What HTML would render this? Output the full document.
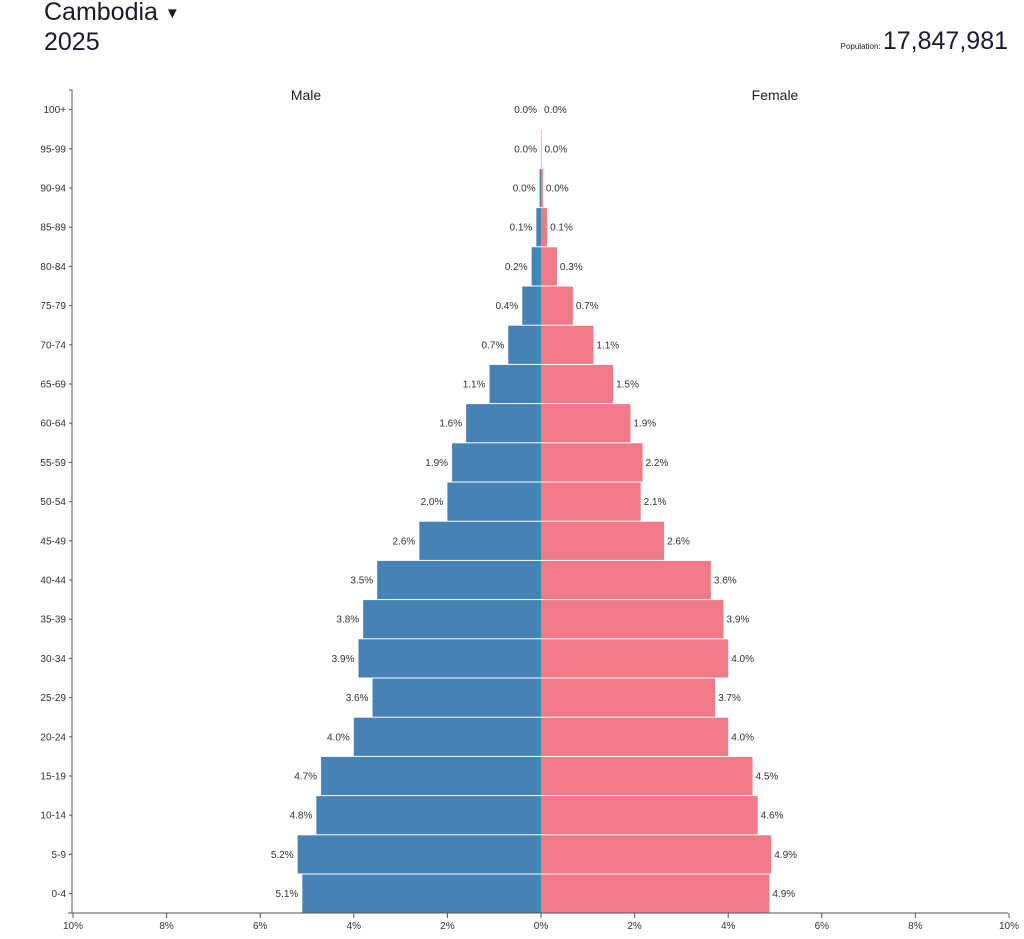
<!DOCTYPE html>
<html><head><meta charset="utf-8"><style>
body{margin:0;background:#fff;font-family:"Liberation Sans",sans-serif;color:#1a1a2e;}
#wrap{position:relative;width:1024px;height:939px;overflow:hidden}
.t{position:absolute;white-space:nowrap}
</style></head><body><div id="wrap">
<div class="t" style="left:44px;top:-2px;font-size:25px">Cambodia <span style="font-size:15px;position:relative;top:-2px">▼</span></div>
<div class="t" style="left:44px;top:28px;font-size:25px">2025</div>
<div class="t" style="right:16px;top:27px;font-size:25px"><span style="font-size:8px">Population: </span>17,847,981</div>
<svg id="c" width="1024" height="939" style="position:absolute;left:0;top:0"></svg>
</div>
<script>
const ages=["100+","95-99","90-94","85-89","80-84","75-79","70-74","65-69","60-64","55-59","50-54","45-49","40-44","35-39","30-34","25-29","20-24","15-19","10-14","5-9","0-4"];
const male=[0.0,0.0,0.03,0.1,0.2,0.4,0.7,1.1,1.6,1.9,2.0,2.6,3.5,3.8,3.9,3.6,4.0,4.7,4.8,5.2,5.1];
const female=[0.0,0.01,0.04,0.13,0.34,0.68,1.12,1.54,1.91,2.17,2.13,2.63,3.63,3.9,4.0,3.72,4.0,4.52,4.63,4.92,4.88];
const ticks=[10,8,6,4,2,0,2,4,6,8,10];
const NS="http://www.w3.org/2000/svg",svg=document.getElementById('c');
const cx=541,pp=46.8,top0=90,band=39.2,axisY=913;
const xm=v=>cx-v*pp, xf=v=>cx+v*pp, yb=i=>top0+i*band;
function mk(t,a,txt){const e=document.createElementNS(NS,t);for(const k in a)e.setAttribute(k,a[k]);if(txt!=null)e.textContent=txt;svg.appendChild(e);return e;}
let e;
e=mk('text',{x:306,y:100,'font-size':14,'text-anchor':'middle',fill:'#222'},'Male');


e=mk('text',{x:775,y:100,'font-size':14,'text-anchor':'middle',fill:'#222'},'Female');


ages.forEach((a,i)=>{
 const y=yb(i),h=band-1,yc=y+band/2+3.5;
 e=mk('rect',{x:xm(male[i]),y:y+0.5,width:male[i]*pp,height:h,fill:'#4682b4'});
 
 
 e=mk('rect',{x:cx,y:y+0.5,width:female[i]*pp,height:h,fill:'#f07a88'});
 
 
 e=mk('text',{x:xm(male[i])-4,y:yc,'font-size':10,'text-anchor':'end',fill:'#333'},male[i].toFixed(1)+'%');
 
 
 e=mk('text',{x:xf(female[i])+3,y:yc,'font-size':10,fill:'#333'},female[i].toFixed(1)+'%');
 
 
 e=mk('text',{x:66,y:yc,'font-size':10,'text-anchor':'end',fill:'#333'},a);
 
 
 mk('line',{x1:69,x2:72,y1:y+band/2,y2:y+band/2,stroke:'#555'});
});
e=mk('path',{d:`M69,${top0}H72V${axisY}`,fill:'none',stroke:'#555'});


e=mk('line',{x1:68,x2:1008,y1:axisY,y2:axisY,stroke:'#555'});


ticks.forEach((t,i)=>{
 const x=i<5?xm(t):xf(t);
 mk('line',{x1:x,x2:x,y1:axisY,y2:axisY+5,stroke:'#555'});
 e=mk('text',{x:x,y:axisY+16,'font-size':10,'text-anchor':'middle',fill:'#333'},t+'%');
 
 
});
</script></body></html>
